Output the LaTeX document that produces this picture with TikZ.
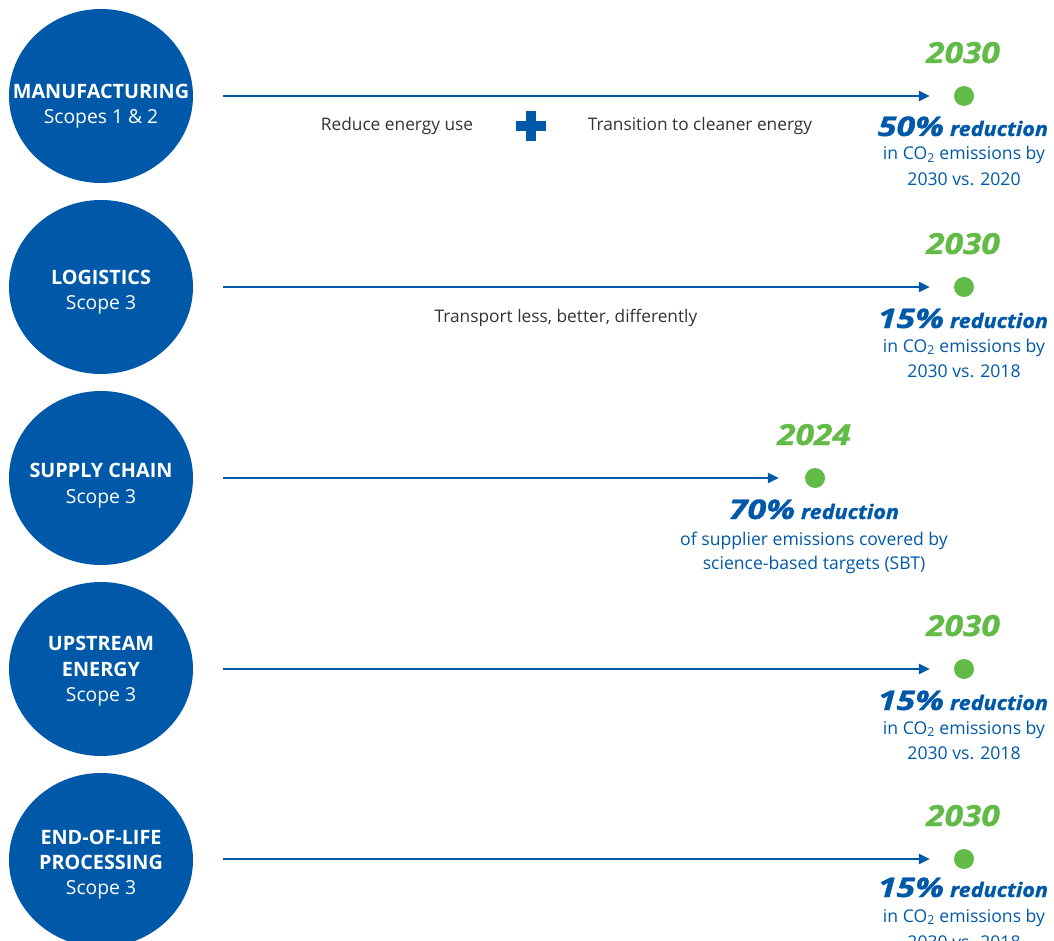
\documentclass[tikz,border=0pt]{standalone}
\usepackage{graphicx}
\usepackage{fontspec}
\setmainfont{Open Sans}
\newfontfamily\heavyfont[FakeBold=1.2]{Open Sans}
\usetikzlibrary{shapes.geometric,arrows.meta}
\definecolor{dblue}{RGB}{0,89,168}
\definecolor{dgreen}{RGB}{98,187,70}
\newcommand{\pcttext}[1]{\scalebox{1.25}[1]{\fontsize{27}{30}\selectfont #1\%}\hspace{6pt}\scalebox{1.08}[1]{\fontsize{20}{22}\selectfont reduction}}
\newcommand{\yrtext}[1]{\scalebox{1.15}[1]{#1}}
\begin{document}
\begin{tikzpicture}[x=1pt,y=-1pt,
  scopecircle/.style={ellipse, fill=dblue, minimum width=184pt, minimum height=174pt, inner sep=0pt},
  gdot/.style={circle, fill=dgreen, minimum size=20pt, inner sep=0pt},
  flow/.style={draw=dblue, line width=2.6pt, -{Triangle[length=11pt,width=10pt]}, shorten <=30pt, shorten >=24pt},
  ttl/.style={text=white, font=\fontsize{19.8}{22}\selectfont\bfseries, anchor=base},
  scp/.style={text=white, font=\fontsize{19.3}{22}\selectfont, anchor=base},
  yr/.style={text=dgreen, font=\fontsize{29}{32}\selectfont\heavyfont\bfseries\itshape, anchor=base},
  pct/.style={text=dblue, font=\heavyfont\bfseries\itshape, anchor=base, inner sep=0pt},
  desc/.style={text=dblue, font=\fontsize{17.6}{20}\selectfont, anchor=base, inner sep=0pt},
  mid/.style={text=black!80, font=\fontsize{17.3}{20}\selectfont, anchor=base, inner sep=0pt},
  plus/.style={fill=dblue}
]
\useasboundingbox (0,0) rectangle (1054,941);
\clip (0,0) rectangle (1054,941);

% ---- circles
\node[scopecircle] (c1) at (101,96) {};
\node[scopecircle] (c2) at (101,287) {};
\node[scopecircle] (c3) at (101,478) {};
\node[scopecircle] (c4) at (101,669) {};
\node[scopecircle] (c5) at (101,860) {};

\node[ttl] (t1) at (101,99) {MANUFACTURING};
\node[scp] (s1) at (101,124) {Scopes 1 \& 2};
\node[ttl] (t2) at (101,284) {LOGISTICS};
\node[scp] (s2) at (101,309) {Scope 3};
\node[ttl] (t3) at (101,477) {SUPPLY CHAIN};
\node[scp] (s3) at (101,503) {Scope 3};
\node[ttl] (t4a) at (101,650) {UPSTREAM};
\node[ttl] (t4b) at (101,676) {ENERGY};
\node[scp] (s4) at (101,701) {Scope 3};
\node[ttl] (t5a) at (101,844) {END-OF-LIFE};
\node[ttl] (t5b) at (101,869) {PROCESSING};
\node[scp] (s5) at (101,894) {Scope 3};

% ---- dots
\node[gdot] (d1) at (964,96) {};
\node[gdot] (d2) at (964,287) {};
\node[gdot] (d3) at (815,478) {};
\node[gdot] (d4) at (964,669) {};
\node[gdot] (d5) at (964,859) {};

% ---- arrows
\draw[flow] (c1) -- (d1);
\draw[flow] (c2) -- (d2);
\draw[flow, shorten >=26pt] (c3) -- (d3);
\draw[flow] (c4) -- (d4);
\draw[flow] (c5.east |- d5) -- (d5);

% ---- middle texts
\node[mid] (m1) at (397,131) {Reduce energy use};
\node[mid] (m2) at (700,131) {Transition to cleaner energy};
\node[mid] (m3) at (566,322) {Transport less, better, differently};
\fill[plus] (516,121) rectangle (546,131);
\fill[plus] (526,111) rectangle (536,141);

% ---- targets
\node[yr] (y1) at (963,63) {\yrtext{2030}};
\node[pct] (p1) at (963,136) {\pcttext{50}};
\node[desc] (l1a) at (964,160) {in CO\textsubscript{2} emissions by};
\node[desc] (l1b) at (964,186) {2030 vs. 2020};

\node[yr] (y2) at (963,254) {\yrtext{2030}};
\node[pct] (p2) at (963,328) {\pcttext{15}};
\node[desc] (l2a) at (964,352) {in CO\textsubscript{2} emissions by};
\node[desc] (l2b) at (964,377) {2030 vs. 2018};

\node[yr] (y3) at (814,445) {\yrtext{2024}};
\node[pct] (p3) at (814,519) {\pcttext{70}};
\node[desc] (l3a) at (814,545) {of supplier emissions covered by};
\node[desc] (l3b) at (814,569) {science-based targets (SBT)};

\node[yr] (y4) at (963,636) {\yrtext{2030}};
\node[pct] (p4) at (963,710) {\pcttext{15}};
\node[desc] (l4a) at (964,734) {in CO\textsubscript{2} emissions by};
\node[desc] (l4b) at (964,759) {2030 vs. 2018};

\node[yr] (y5) at (963,826) {\yrtext{2030}};
\node[pct] (p5) at (963,897) {\pcttext{15}};
\node[desc] (l5a) at (964,922) {in CO\textsubscript{2} emissions by};
\node[desc] (l5b) at (964,948) {2030 vs. 2018};
\end{tikzpicture}
\end{document}
